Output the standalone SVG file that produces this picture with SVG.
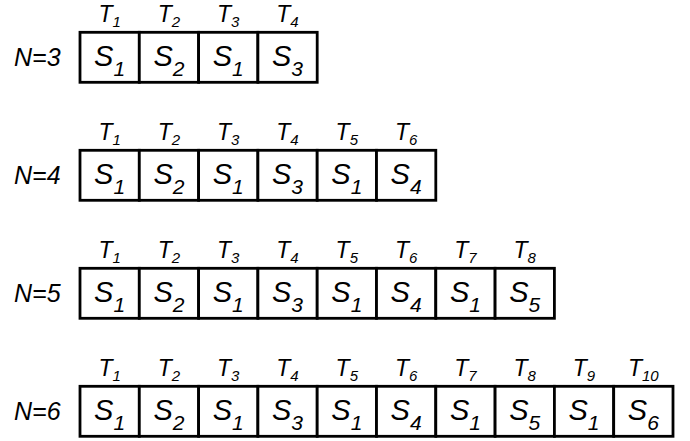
<svg xmlns="http://www.w3.org/2000/svg" width="690" height="441" viewBox="0 0 690 441">
<style>
text{font-family:"Liberation Sans",Arial,sans-serif;font-style:italic;fill:#000}
.n{font-size:25px}
.s{font-size:29px;text-anchor:middle}
.t{font-size:23px;text-anchor:middle}
.sub{font-size:21px}
.tsub{font-size:15px}
.cell{fill:#fff;stroke:#000;stroke-width:2.8}
</style>
<rect width="690" height="441" fill="#fff"/>
<defs>
<rect id="c" class="cell" width="59.3" height="50"/>
</defs>
<g id="row3" transform="translate(80,32.3)">
<text class="n" x="-66" y="34">N=3</text>
<use href="#c" x="0"/><use href="#c" x="59.3"/><use href="#c" x="118.6"/><use href="#c" x="177.9"/>
<text class="t" x="29.6" y="-10">T<tspan class="tsub" dy="5">1</tspan></text>
<text class="t" x="88.9" y="-10">T<tspan class="tsub" dy="5">2</tspan></text>
<text class="t" x="148.2" y="-10">T<tspan class="tsub" dy="5">3</tspan></text>
<text class="t" x="207.5" y="-10">T<tspan class="tsub" dy="5">4</tspan></text>
<text class="s" x="29.6" y="33.5">S<tspan class="sub" dy="10">1</tspan></text>
<text class="s" x="88.9" y="33.5">S<tspan class="sub" dy="10">2</tspan></text>
<text class="s" x="148.2" y="33.5">S<tspan class="sub" dy="10">1</tspan></text>
<text class="s" x="207.5" y="33.5">S<tspan class="sub" dy="10">3</tspan></text>
</g>
<g id="row4" transform="translate(80,150.3)">
<text class="n" x="-66" y="34">N=4</text>
<use href="#c" x="0"/><use href="#c" x="59.3"/><use href="#c" x="118.6"/><use href="#c" x="177.9"/><use href="#c" x="237.2"/><use href="#c" x="296.5"/>
<text class="t" x="29.6" y="-10">T<tspan class="tsub" dy="5">1</tspan></text>
<text class="t" x="88.9" y="-10">T<tspan class="tsub" dy="5">2</tspan></text>
<text class="t" x="148.2" y="-10">T<tspan class="tsub" dy="5">3</tspan></text>
<text class="t" x="207.5" y="-10">T<tspan class="tsub" dy="5">4</tspan></text>
<text class="t" x="266.8" y="-10">T<tspan class="tsub" dy="5">5</tspan></text>
<text class="t" x="326.1" y="-10">T<tspan class="tsub" dy="5">6</tspan></text>
<text class="s" x="29.6" y="33.5">S<tspan class="sub" dy="10">1</tspan></text>
<text class="s" x="88.9" y="33.5">S<tspan class="sub" dy="10">2</tspan></text>
<text class="s" x="148.2" y="33.5">S<tspan class="sub" dy="10">1</tspan></text>
<text class="s" x="207.5" y="33.5">S<tspan class="sub" dy="10">3</tspan></text>
<text class="s" x="266.8" y="33.5">S<tspan class="sub" dy="10">1</tspan></text>
<text class="s" x="326.1" y="33.5">S<tspan class="sub" dy="10">4</tspan></text>
</g>
<g id="row5" transform="translate(80,268.3)">
<text class="n" x="-66" y="34">N=5</text>
<use href="#c" x="0"/><use href="#c" x="59.3"/><use href="#c" x="118.6"/><use href="#c" x="177.9"/><use href="#c" x="237.2"/><use href="#c" x="296.5"/><use href="#c" x="355.8"/><use href="#c" x="415.1"/>
<text class="t" x="29.6" y="-10">T<tspan class="tsub" dy="5">1</tspan></text>
<text class="t" x="88.9" y="-10">T<tspan class="tsub" dy="5">2</tspan></text>
<text class="t" x="148.2" y="-10">T<tspan class="tsub" dy="5">3</tspan></text>
<text class="t" x="207.5" y="-10">T<tspan class="tsub" dy="5">4</tspan></text>
<text class="t" x="266.8" y="-10">T<tspan class="tsub" dy="5">5</tspan></text>
<text class="t" x="326.1" y="-10">T<tspan class="tsub" dy="5">6</tspan></text>
<text class="t" x="385.4" y="-10">T<tspan class="tsub" dy="5">7</tspan></text>
<text class="t" x="444.7" y="-10">T<tspan class="tsub" dy="5">8</tspan></text>
<text class="s" x="29.6" y="33.5">S<tspan class="sub" dy="10">1</tspan></text>
<text class="s" x="88.9" y="33.5">S<tspan class="sub" dy="10">2</tspan></text>
<text class="s" x="148.2" y="33.5">S<tspan class="sub" dy="10">1</tspan></text>
<text class="s" x="207.5" y="33.5">S<tspan class="sub" dy="10">3</tspan></text>
<text class="s" x="266.8" y="33.5">S<tspan class="sub" dy="10">1</tspan></text>
<text class="s" x="326.1" y="33.5">S<tspan class="sub" dy="10">4</tspan></text>
<text class="s" x="385.4" y="33.5">S<tspan class="sub" dy="10">1</tspan></text>
<text class="s" x="444.7" y="33.5">S<tspan class="sub" dy="10">5</tspan></text>
</g>
<g id="row6" transform="translate(80,386.3)">
<text class="n" x="-66" y="34">N=6</text>
<use href="#c" x="0"/><use href="#c" x="59.3"/><use href="#c" x="118.6"/><use href="#c" x="177.9"/><use href="#c" x="237.2"/><use href="#c" x="296.5"/><use href="#c" x="355.8"/><use href="#c" x="415.1"/><use href="#c" x="474.4"/><use href="#c" x="533.7"/>
<text class="t" x="29.6" y="-10">T<tspan class="tsub" dy="5">1</tspan></text>
<text class="t" x="88.9" y="-10">T<tspan class="tsub" dy="5">2</tspan></text>
<text class="t" x="148.2" y="-10">T<tspan class="tsub" dy="5">3</tspan></text>
<text class="t" x="207.5" y="-10">T<tspan class="tsub" dy="5">4</tspan></text>
<text class="t" x="266.8" y="-10">T<tspan class="tsub" dy="5">5</tspan></text>
<text class="t" x="326.1" y="-10">T<tspan class="tsub" dy="5">6</tspan></text>
<text class="t" x="385.4" y="-10">T<tspan class="tsub" dy="5">7</tspan></text>
<text class="t" x="444.7" y="-10">T<tspan class="tsub" dy="5">8</tspan></text>
<text class="t" x="504" y="-10">T<tspan class="tsub" dy="5">9</tspan></text>
<text class="t" x="563.3" y="-10">T<tspan class="tsub" dy="5">10</tspan></text>
<text class="s" x="29.6" y="33.5">S<tspan class="sub" dy="10">1</tspan></text>
<text class="s" x="88.9" y="33.5">S<tspan class="sub" dy="10">2</tspan></text>
<text class="s" x="148.2" y="33.5">S<tspan class="sub" dy="10">1</tspan></text>
<text class="s" x="207.5" y="33.5">S<tspan class="sub" dy="10">3</tspan></text>
<text class="s" x="266.8" y="33.5">S<tspan class="sub" dy="10">1</tspan></text>
<text class="s" x="326.1" y="33.5">S<tspan class="sub" dy="10">4</tspan></text>
<text class="s" x="385.4" y="33.5">S<tspan class="sub" dy="10">1</tspan></text>
<text class="s" x="444.7" y="33.5">S<tspan class="sub" dy="10">5</tspan></text>
<text class="s" x="504" y="33.5">S<tspan class="sub" dy="10">1</tspan></text>
<text class="s" x="563.3" y="33.5">S<tspan class="sub" dy="10">6</tspan></text>
</g>
</svg>
